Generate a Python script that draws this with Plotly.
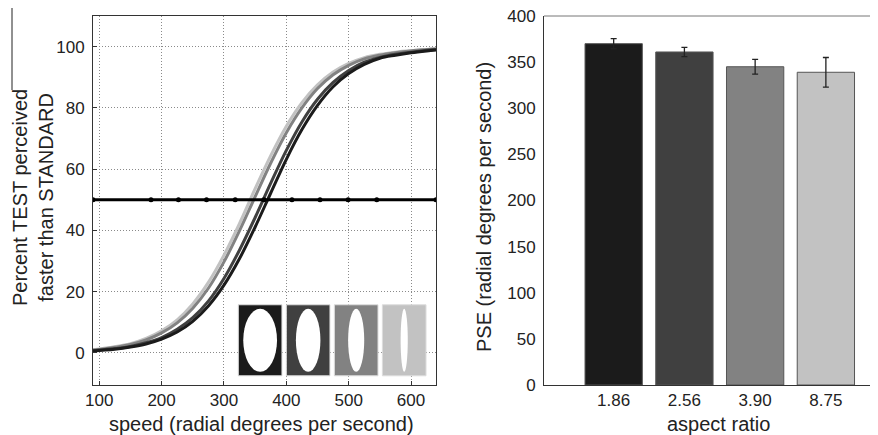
import plotly.graph_objects as go

# ---------------- data ----------------
speed = [90, 100, 125, 150, 175, 200, 225, 250, 275, 300, 325, 350, 375, 400,
         425, 450, 475, 500, 525, 550, 575, 600, 625, 640]
pct_186 = [0.6, 0.8, 1.2, 1.9, 2.9, 4.5, 6.8, 10.3, 15.3, 22.1, 30.8, 41.1, 52.2, 63.2,
           72.9, 80.8, 86.9, 91.2, 94.2, 96.2, 97.2, 98.0, 98.6, 98.9]
pct_256 = [0.7, 0.9, 1.4, 2.1, 3.3, 5.0, 7.7, 11.5, 16.9, 24.3, 33.6, 44.2, 55.4, 66.1,
           75.4, 82.8, 88.3, 92.2, 94.9, 96.5, 97.5, 98.2, 98.8, 99.1]
pct_390 = [0.9, 1.1, 1.8, 2.7, 4.2, 6.5, 9.8, 14.6, 21.1, 29.7, 39.9, 51.0, 62.0, 71.9,
           80.0, 86.3, 90.8, 93.9, 96.0, 97.2, 98.0, 98.6, 99.0, 99.2]
pct_875 = [1.0, 1.3, 2.0, 3.0, 4.7, 7.2, 10.8, 16.0, 23.0, 31.9, 42.3, 53.6, 64.4, 74.0,
           81.7, 87.5, 91.7, 94.5, 96.4, 97.5, 98.2, 98.7, 99.1, 99.3]
ref_x = [90, 183, 227, 272, 318, 364, 409, 454, 499, 545, 640]
ref_y = [50] * len(ref_x)

aspect_labels = ["1.86", "2.56", "3.90", "8.75"]
aspect_vals = [1.86, 2.56, 3.90, 8.75]
pse = [370, 361, 345, 339]
pse_err = [5.5, 5, 8, 16]
shades = ["#1b1b1b", "#404040", "#828282", "#c2c2c2"]

FONT = "Liberation Sans, Arial, sans-serif"
TICK = 17
TITLE = 20
W, H, OFF = 878, 435, 8   # page body margin offset


def px(xp):
    return (xp - OFF) / W


def py(yp):
    return 1 - (yp - OFF) / H


fig = go.Figure()

# ---------------- left panel ----------------
for ys, col in zip([pct_875, pct_390, pct_256, pct_186], shades[::-1]):
    fig.add_trace(go.Scatter(x=speed, y=ys, mode="lines", line=dict(color=col, width=3, shape="spline"),
                             xaxis="x", yaxis="y", showlegend=False))
fig.add_trace(go.Scatter(x=ref_x, y=ref_y, mode="lines+markers",
                         line=dict(color="black", width=3), marker=dict(color="black", size=5),
                         xaxis="x", yaxis="y", showlegend=False))

# ---------------- right panel ----------------
fig.add_trace(go.Bar(x=[1, 2, 3, 4], y=pse, marker=dict(color=shades, line=dict(color="#555555", width=1)),
                     width=0.81,
                     error_y=dict(type="data", array=pse_err, color="#222222", thickness=1.3, width=3),
                     xaxis="x2", yaxis="y2", showlegend=False))

shapes = []
# inset icons (stimulus ellipses) in left panel
icon_x0, icon_w, icon_gap = 323, 70, 7
icon_y0, icon_y1 = -7.5, 15.7
ell_h = 20.6          # ellipse height in y-data units
px_per_x = 0.626      # px per x unit
px_per_y = 3.06       # px per y unit
for i, (a, col) in enumerate(zip(aspect_vals, shades)):
    x0 = icon_x0 + i * (icon_w + icon_gap)
    x1 = x0 + icon_w
    shapes.append(dict(type="rect", xref="x", yref="y", x0=x0, x1=x1, y0=icon_y0, y1=icon_y1,
                       fillcolor=col, line=dict(color="#dddddd", width=1), layer="above"))
    cx = (x0 + x1) / 2
    cy = (icon_y0 + icon_y1) / 2
    w = (ell_h * px_per_y / a) / px_per_x
    shapes.append(dict(type="circle", xref="x", yref="y", x0=cx - w / 2, x1=cx + w / 2,
                       y0=cy - ell_h / 2, y1=cy + ell_h / 2,
                       fillcolor="white", line=dict(color="white", width=0), layer="above"))
# top border of right panel (grey)
shapes.append(dict(type="line", xref="x2 domain", yref="y2 domain", x0=0, x1=1, y0=1, y1=1,
                   line=dict(color="#777777", width=1)))
# fragment line top-left
shapes.append(dict(type="line", xref="paper", yref="paper", x0=px(12), x1=px(12), y0=1.02, y1=py(90),
                   line=dict(color="#222222", width=1)))

annotations = [
    dict(text="Percent TEST perceived<br>faster than STANDARD", x=px(33), y=py(198), xref="paper", yref="paper",
         textangle=-90, showarrow=False, xanchor="center", yanchor="middle", font=dict(size=TITLE)),
    dict(text="PSE (radial degrees per second)", x=px(484), y=py(207), xref="paper", yref="paper",
         textangle=-90, showarrow=False, xanchor="center", yanchor="middle", font=dict(size=TITLE)),
    dict(text="speed (radial degrees per second)", x=px(261), y=py(424), xref="paper", yref="paper",
         showarrow=False, xanchor="center", yanchor="middle", font=dict(size=TITLE)),
    dict(text="aspect ratio", x=px(718), y=py(424), xref="paper", yref="paper",
         showarrow=False, xanchor="center", yanchor="middle", font=dict(size=TITLE)),
]

grid = dict(showgrid=True, gridcolor="#8a8a8a", griddash="1px,2px", gridwidth=1)
ydom = [py(385), py(16)]

fig.update_layout(
    width=W, height=H,
    margin=dict(l=0, r=0, t=0, b=0, autoexpand=False),
    paper_bgcolor="white", plot_bgcolor="white",
    font=dict(family=FONT, size=TICK, color="#222222"),
    shapes=shapes, annotations=annotations,
    xaxis=dict(domain=[px(93), px(436)], range=[90, 640], tickvals=[100, 200, 300, 400, 500, 600],
               **grid, automargin=False, ticklabeloverflow="allow",
               showline=True, linecolor="#333333", linewidth=1, mirror=True,
               ticks="inside", ticklen=4, tickcolor="#333333", zeroline=False,
               ticklabelstandoff=0, tickfont=dict(size=TICK)),
    yaxis=dict(domain=ydom, range=[-10.5, 110], tickvals=[0, 20, 40, 60, 80, 100],
               **grid, automargin=False, ticklabeloverflow="allow",
               showline=True, linecolor="#333333", linewidth=1, mirror=True,
               ticks="inside", ticklen=4, tickcolor="#333333", zeroline=False,
               ticklabelstandoff=4, tickfont=dict(size=TICK)),
    xaxis2=dict(domain=[px(544), 1.0], range=[0.015, 4.85], tickvals=[1, 2, 3, 4], ticktext=aspect_labels,
                showgrid=False, showline=True, linecolor="#333333", linewidth=1, ticks="", zeroline=False,
                automargin=False, ticklabeloverflow="allow",
                ticklabelstandoff=0, tickfont=dict(size=TICK), anchor="y2"),
    yaxis2=dict(domain=ydom, range=[0, 400], tickvals=list(range(0, 401, 50)),
                showgrid=False, showline=True, linecolor="#333333", linewidth=1, ticks="", zeroline=False,
                automargin=False, ticklabeloverflow="allow",
                ticklabelstandoff=4, tickfont=dict(size=TICK), anchor="x2"),
)

fig.write_html("out.html")
